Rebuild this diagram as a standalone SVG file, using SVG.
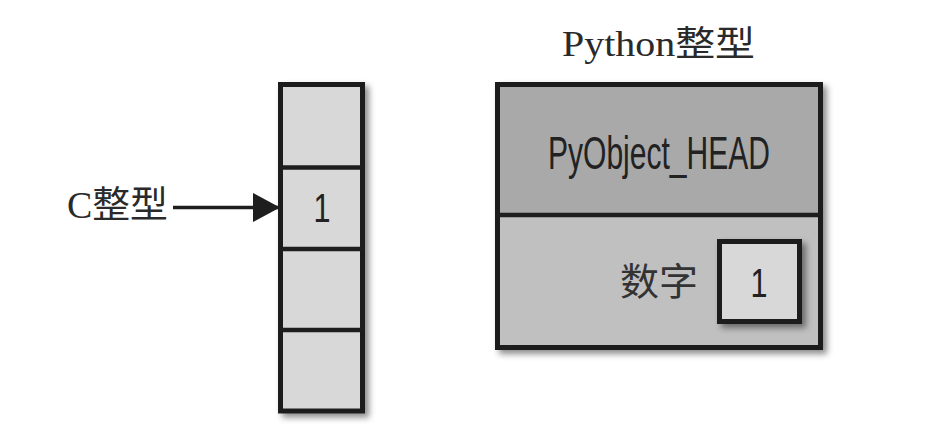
<svg xmlns="http://www.w3.org/2000/svg" width="940" height="431" viewBox="0 0 940 431">
  <defs>
    <filter id="shadow" x="-10%" y="-10%" width="130%" height="130%">
      <feDropShadow dx="4" dy="4" stdDeviation="3" flood-color="#000" flood-opacity="0.45"/>
    </filter>
    <marker id="arrow" viewBox="0 0 27 29" refX="27" refY="14.5" markerWidth="27" markerHeight="29" markerUnits="userSpaceOnUse" orient="auto">
      <path d="M0,0 L27,14.5 L0,29 Z" fill="#1e1e1e"/>
    </marker>
  </defs>
  <style>
    .box { stroke: #1e1e1e; stroke-width: 5; }
    .div { stroke: #1e1e1e; stroke-width: 4.5; }
    .cell { fill: #d8d8d8; }
    .head { fill: #a9a9a9; }
    .body { fill: #c0c0c0; }
    .serif { font-family: "Liberation Serif", "Noto Sans CJK SC", serif; fill: #2a2a2a; }
    .sans { font-family: "Liberation Sans", "Noto Sans CJK SC", sans-serif; fill: #222; }
    .cjk { font-family: "Noto Sans CJK SC", sans-serif; fill: #333; }
  </style>
  <rect width="940" height="431" fill="#ffffff"/>

  <g id="c-int-label">
    <text class="serif" x="67" y="218" font-size="37" textLength="101" lengthAdjust="spacingAndGlyphs">C整型</text>
  </g>

  <g id="memory-column">
    <rect class="box cell" x="280.5" y="84.5" width="82" height="326.5" filter="url(#shadow)"/>
    <line class="div" x1="280.5" y1="167.5" x2="362.5" y2="167.5"/>
    <line class="div" x1="280.5" y1="249" x2="362.5" y2="249"/>
    <line class="div" x1="280.5" y1="330" x2="362.5" y2="330"/>
    <text class="sans" x="322" y="222" font-size="40" text-anchor="middle" textLength="17" lengthAdjust="spacingAndGlyphs">1</text>
  </g>

  <g id="python-int">
    <text class="serif" x="562" y="56" font-size="35" textLength="193" lengthAdjust="spacingAndGlyphs">Python整型</text>
    <g filter="url(#shadow)">
      <rect class="head" x="497.5" y="84.5" width="323" height="130.5"/>
      <rect class="body" x="497.5" y="215" width="323" height="132.5"/>
      <rect class="box" x="497.5" y="84.5" width="323" height="263" fill="none"/>
    </g>
    <line class="div" x1="497.5" y1="215" x2="820.5" y2="215"/>
    <text class="sans" x="548" y="169" font-size="46" textLength="222" lengthAdjust="spacingAndGlyphs">PyObject_HEAD</text>
    <text class="cjk" x="620" y="295" font-size="38" textLength="78" lengthAdjust="spacingAndGlyphs">数字</text>
    <rect class="box cell" x="719.5" y="241.5" width="80" height="80" filter="url(#shadow)"/>
    <text class="sans" x="759" y="297" font-size="40" text-anchor="middle" textLength="17" lengthAdjust="spacingAndGlyphs">1</text>
  </g>

  <g id="connectors">
    <line x1="173" y1="207.5" x2="280" y2="207.5" stroke="#1e1e1e" stroke-width="3.5" marker-end="url(#arrow)"/>
  </g>
</svg>
